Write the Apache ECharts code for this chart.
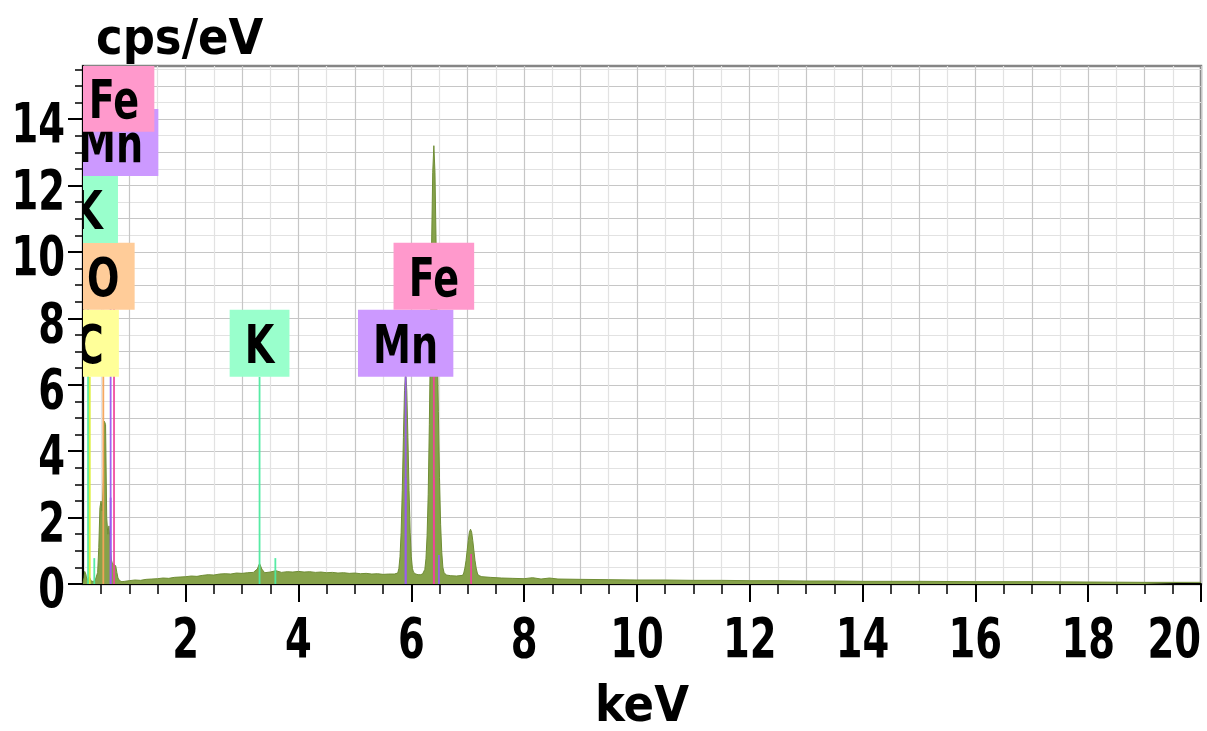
<!DOCTYPE html>
<html>
<head>
<meta charset="utf-8">
<title>EDS spectrum</title>
<script src="https://cdn.jsdelivr.net/npm/echarts@6.0.0/dist/echarts.min.js"></script>
<style>
  html, body { margin: 0; padding: 0; background: #ffffff; }
  #chart { width: 1207px; height: 731px; }
</style>
</head>
<body>
<div id="chart"></div>
<script>
// Spectrum: energy (keV) and intensity (cps/eV)
const spectrumKeV = [
  0.18, 0.20, 0.21, 0.22, 0.23, 0.25, 0.27, 0.29, 0.31, 0.33, 0.36, 0.39, 0.42, 0.44, 0.46, 0.48,
  0.50, 0.52, 0.54, 0.56, 0.58, 0.60, 0.62, 0.64, 0.66, 0.68, 0.70, 0.73, 0.76, 0.78, 0.80, 0.83,
  0.87, 0.92, 1.00, 1.10, 1.20, 1.30, 1.40, 1.50, 1.60, 1.70, 1.80, 1.90, 2.00, 2.10, 2.20, 2.30,
  2.40, 2.50, 2.60, 2.70, 2.80, 2.90, 3.00, 3.10, 3.20, 3.27, 3.31, 3.35, 3.40, 3.50, 3.60, 3.70,
  3.80, 3.90, 4.00, 4.10, 4.20, 4.30, 4.40, 4.50, 4.60, 4.70, 4.80, 4.90, 5.00, 5.10, 5.20, 5.30,
  5.40, 5.50, 5.60, 5.70, 5.76, 5.78, 5.80, 5.82, 5.84, 5.86, 5.88, 5.90, 5.92, 5.94, 5.96, 5.98,
  6.00, 6.02, 6.04, 6.08, 6.12, 6.16, 6.20, 6.22, 6.24, 6.26, 6.28, 6.30, 6.32, 6.34, 6.36, 6.38,
  6.40, 6.42, 6.44, 6.46, 6.48, 6.50, 6.52, 6.54, 6.56, 6.58, 6.62, 6.70, 6.80, 6.91, 6.93, 6.95,
  6.97, 6.99, 7.01, 7.03, 7.05, 7.07, 7.09, 7.11, 7.13, 7.15, 7.17, 7.19, 7.25, 7.40, 7.60, 7.80,
  8.00, 8.15, 8.30, 8.45, 8.60, 9.00, 9.50, 10.0, 10.5, 11.0, 11.5, 12.0, 12.5, 13.0, 13.5, 14.0,
  15.0, 16.0, 17.0, 18.0, 19.0, 20.0
];
const spectrumCps = [
  0.04, 0.20, 0.38, 0.42, 0.30, 0.12, 0.18, 0.22, 0.15, 0.08, 0.06, 0.08, 0.12, 0.35, 1.10, 2.30,
  2.50, 2.20, 3.00, 4.90, 4.80, 2.00, 1.50, 1.75, 1.30, 0.75, 0.62, 0.66, 0.55, 0.35, 0.18, 0.10,
  0.07, 0.08, 0.10, 0.12, 0.11, 0.14, 0.15, 0.16, 0.18, 0.17, 0.20, 0.21, 0.22, 0.24, 0.23, 0.26,
  0.28, 0.27, 0.30, 0.31, 0.30, 0.33, 0.32, 0.34, 0.35, 0.45, 0.62, 0.45, 0.34, 0.36, 0.40, 0.35,
  0.37, 0.36, 0.38, 0.36, 0.37, 0.35, 0.36, 0.34, 0.35, 0.33, 0.34, 0.32, 0.33, 0.31, 0.32, 0.30,
  0.31, 0.29, 0.30, 0.30, 0.33, 0.47, 0.82, 1.56, 2.81, 4.41, 5.83, 6.40, 5.83, 4.41, 2.81, 1.56,
  0.82, 0.47, 0.35, 0.30, 0.28, 0.28, 0.30, 0.32, 0.44, 0.76, 1.45, 2.70, 4.80, 7.40, 10.2, 12.4,
  13.2, 12.4, 10.2, 7.40, 5.20, 3.20, 1.80, 0.96, 0.50, 0.35, 0.27, 0.25, 0.24, 0.26, 0.33, 0.48,
  0.70, 1.00, 1.31, 1.56, 1.65, 1.56, 1.31, 1.00, 0.70, 0.48, 0.33, 0.26, 0.22, 0.20, 0.18, 0.17,
  0.16, 0.19, 0.15, 0.18, 0.15, 0.14, 0.13, 0.12, 0.12, 0.11, 0.11, 0.10, 0.10, 0.09, 0.09, 0.08,
  0.08, 0.07, 0.07, 0.06, 0.05, 0.05
];

// Axis tick labels
const xLabelTicks = [2, 4, 6, 8, 10, 12, 14, 16, 18, 20];
const yLabelTicks = [0, 2, 4, 6, 8, 10, 12, 14];

// Element line markers: element, energy (keV), marker top (cps/eV)
const markerElement = ['K', 'C', 'K', 'O', 'Mn', 'Mn', 'Fe', 'K', 'K', 'Mn', 'Mn', 'Mn', 'Fe', 'Fe', 'Fe'];
const markerKeV     = [0.27, 0.30, 0.38, 0.54, 0.67, 0.67, 0.73, 3.31, 3.59, 5.90, 5.90, 6.49, 6.40, 6.40, 7.06];
const markerTop     = [10.27, 6.24, 0.78, 8.26, 12.29, 2.60, 13.62, 6.24, 0.78, 6.24, 3.20, 0.87, 8.26, 3.20, 0.90];

// Element tags: text, energy (keV), tag bottom (cps/eV)
const tagText   = ['C', 'O', 'K', 'Mn', 'Fe', 'K', 'Mn', 'Fe'];
const tagKeV    = [0.30, 0.54, 0.27, 0.67, 0.73, 3.31, 5.90, 6.40];
const tagBottom = [6.24, 8.26, 10.27, 12.29, 13.62, 6.24, 6.24, 8.26];

const lineColor = { C: '#dcee30', K: '#4eeaa0', O: '#f4a45a', Mn: '#9a5cf0', Fe: '#f0449a' };
const boxColor  = { C: '#ffff99', K: '#99ffcc', O: '#ffcc99', Mn: '#cc99ff', Fe: '#ff99cc' };

const XMIN = 0.18, XMAX = 20, YMIN = 0, YMAX = 15.6;

const xMinorTicks = [];
for (let v = 0.5; v <= XMAX + 1e-9; v += 0.5) xMinorTicks.push(v);
const yMinorTicks = [];
for (let v = 0; v <= 15.5 + 1e-9; v += 0.5) yMinorTicks.push(v);

const boldFont = "'DejaVu Sans', 'Liberation Sans', sans-serif";
const nameFont = "'DejaVu Sans Condensed', 'DejaVu Sans', sans-serif";
// horizontal squeeze applied to the bold glyphs
const digitSqueeze = 0.7;
const tagSqueeze = 0.72;

const chart = echarts.init(document.getElementById('chart'));

const option = {
  animation: false,
  backgroundColor: '#ffffff',
  grid: {
    left: 83, right: 6, top: 66, bottom: 147,
    show: true, borderColor: '#858585', borderWidth: 2.5, backgroundColor: '#ffffff',
    outerBoundsMode: 'none'
  },
  xAxis: [
    {
      type: 'value', min: XMIN, max: XMAX, position: 'bottom',
      name: 'keV', nameLocation: 'middle', nameGap: 99,
      nameTextStyle: { fontFamily: nameFont, fontWeight: 'bold', fontSize: 50, color: '#000' },
      axisLine: { show: true, lineStyle: { color: '#000', width: 2 } },
      axisTick: { show: true, customValues: xLabelTicks, length: 18, lineStyle: { color: '#000', width: 2 } },
      axisLabel: { show: false },
      splitLine: { show: false }
    },
    {
      type: 'value', min: XMIN, max: XMAX, position: 'bottom',
      axisLine: { show: false },
      axisTick: { show: true, customValues: xMinorTicks, length: 10, lineStyle: { color: '#000', width: 1.5 } },
      axisLabel: { show: false },
      splitLine: { show: true, lineStyle: { color: ['#e2e2e2', '#c6c6c6'], width: 1.2 } }
    }
  ],
  yAxis: [
    {
      type: 'value', min: YMIN, max: YMAX, position: 'left',
      name: 'cps/eV', nameLocation: 'end', nameGap: 0,
      nameTextStyle: {
        fontFamily: nameFont, fontWeight: 'bold', fontSize: 50, color: '#000',
        align: 'left', verticalAlign: 'bottom', padding: [0, 0, 0, 13]
      },
      axisLine: { show: true, lineStyle: { color: '#000', width: 2 } },
      axisTick: { show: true, customValues: yLabelTicks, length: 15, lineStyle: { color: '#000', width: 2 } },
      axisLabel: { show: false },
      splitLine: { show: false }
    },
    {
      type: 'value', min: YMIN, max: YMAX, position: 'left',
      axisLine: { show: false },
      axisTick: { show: true, customValues: yMinorTicks, length: 8, lineStyle: { color: '#000', width: 1.5 } },
      axisLabel: { show: false },
      splitLine: { show: true, lineStyle: { color: ['#c6c6c6', '#e2e2e2'], width: 1.2 } }
    }
  ],
  series: [
    {
      name: 'spectrum', type: 'line', xAxisIndex: 0, yAxisIndex: 0,
      data: spectrumKeV.map((e, i) => [e, spectrumCps[i]]),
      symbol: 'none', smooth: false, clip: true,
      lineStyle: { color: '#6f8d35', width: 1 },
      areaStyle: { color: '#86a24a', opacity: 1 },
      silent: true, z: 2
    },
    {
      name: 'lines', type: 'custom', xAxisIndex: 0, yAxisIndex: 0, clip: true, silent: true, z: 3,
      data: markerKeV.map((e, i) => [e, markerTop[i]]),
      encode: { x: 0, y: 1 },
      renderItem: function (params, api) {
        const el = markerElement[params.dataIndex];
        const p0 = api.coord([api.value(0), 0]);
        const p1 = api.coord([api.value(0), api.value(1)]);
        return {
          type: 'line',
          shape: { x1: p0[0], y1: p0[1], x2: p1[0], y2: p1[1] },
          style: { stroke: lineColor[el], lineWidth: 1.8, opacity: 0.95 }
        };
      }
    },
    {
      name: 'tags', type: 'custom', xAxisIndex: 0, yAxisIndex: 0, clip: true, silent: true, z: 4,
      data: tagKeV.map((e, i) => [e, tagBottom[i]]),
      encode: { x: 0, y: 1 },
      renderItem: function (params, api) {
        const t = tagText[params.dataIndex];
        const p = api.coord([api.value(0), api.value(1)]);
        return {
          type: 'text',
          x: p[0], y: p[1], scaleX: tagSqueeze,
          style: {
            text: t, fill: '#000',
            fontFamily: boldFont, fontWeight: 'bold', fontSize: 53, lineHeight: 53,
            backgroundColor: boxColor[t], padding: [13, 21, 1, 21],
            align: 'center', verticalAlign: 'bottom'
          }
        };
      }
    },
    {
      // energy tick labels under the x axis
      name: 'xTickLabels', type: 'custom', xAxisIndex: 0, yAxisIndex: 0, clip: false, silent: true, z: 5,
      data: xLabelTicks.map(v => [v, YMIN]),
      encode: { x: 0, y: 1 },
      renderItem: function (params, api) {
        const v = api.value(0);
        const p = api.coord([v, YMIN]);
        const last = params.dataIndex === xLabelTicks.length - 1;
        return {
          type: 'text',
          x: p[0], y: p[1] + 31, scaleX: digitSqueeze,
          style: {
            text: String(v), fill: '#000',
            fontFamily: boldFont, fontWeight: 'bold', fontSize: 55,
            align: last ? 'right' : 'center', verticalAlign: 'top'
          }
        };
      }
    },
    {
      // intensity tick labels left of the y axis
      name: 'yTickLabels', type: 'custom', xAxisIndex: 0, yAxisIndex: 0, clip: false, silent: true, z: 5,
      data: yLabelTicks.map(v => [XMIN, v]),
      encode: { x: 0, y: 1 },
      renderItem: function (params, api) {
        const v = api.value(1);
        const p = api.coord([XMIN, v]);
        return {
          type: 'text',
          x: p[0] - 18, y: p[1] + 9, scaleX: digitSqueeze,
          style: {
            text: String(v), fill: '#000',
            fontFamily: boldFont, fontWeight: 'bold', fontSize: 55,
            align: 'right', verticalAlign: 'middle'
          }
        };
      }
    }
  ]
};

chart.setOption(option);
</script>
</body>
</html>
